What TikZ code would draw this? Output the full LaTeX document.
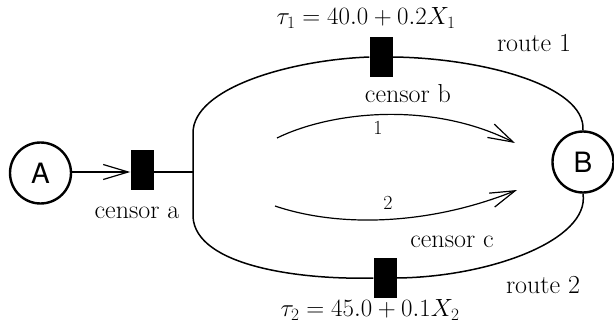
\documentclass[tikz,border=0pt]{standalone}
\usepackage{fontspec}
\setsansfont{TeX Gyre Heros}
\usetikzlibrary{arrows.meta}
\begin{document}
\begin{tikzpicture}[x=1pt,y=-1pt,
  endpoint/.style={draw,circle,line width=2.4pt,minimum size=61pt,inner sep=0pt,font=\sffamily\fontsize{28}{30}\selectfont},
  censorbox/.style={fill=black,draw=none,minimum width=23pt,minimum height=40pt,inner sep=0pt},
  lbl/.style={font=\fontsize{26}{28}\selectfont,inner sep=0pt},
  mlbl/.style={font=\fontsize{23}{25}\selectfont,inner sep=0pt},
  nlbl/.style={font=\fontsize{20}{22}\selectfont,inner sep=0pt},
  routeline/.style={line width=1.5pt},
  flow/.style={line width=1.2pt,-{Straight Barb[length=25pt,width=15pt,line width=1.2pt]}}]
\useasboundingbox (0,0) rectangle (614,329);
% endpoints
\node[endpoint] (A) at (40.5,173) {A};
\node[endpoint] (B) at (583,162) {B};
% censors
\node[censorbox] (ca) at (142,170) {};
\node[censorbox] (cb) at (381,57) {};
\node[censorbox] (cc) at (385,278) {};
% junction / loop corners
\coordinate (jn) at (193,172);
\coordinate (jt) at (193,133);
\coordinate (jb) at (193,217);
% A -> censor a -> junction
\draw[flow] (A.east |- jn) -- (ca.west |- jn);
\draw[routeline] (ca.east |- jn) -- (jn);
% route 1
\draw[routeline] (jn) -- (jt) .. controls (193,88) and (290,60) .. (cb.west);
\draw[routeline] (cb.east) .. controls (480,58) and (586,85) .. (B.north);
% route 2
\draw[routeline] (jn) -- (jb) .. controls (196,266) and (300,280) .. (cc.west);
\draw[routeline] (cc.east) .. controls (490,277) and (590,240) .. (B.south);
% flow arrows
\coordinate (f1s) at (277,138);
\coordinate (f1e) at (515,143);
\coordinate (f2s) at (275,206);
\coordinate (f2e) at (517,190);
\draw[flow] (f1s) .. controls (330,112) and (430,100) .. (f1e);
\draw[flow] (f2s) .. controls (340,228) and (430,225) .. (f2e);
% labels
\node[lbl] (la) at (137,213) {censor a};
\node[lbl] (lb) at (408,94) {censor b};
\node[lbl] (lc) at (452,242) {censor c};
\node[lbl] (r1) at (534,43) {route 1};
\node[lbl] (r2) at (543,285) {route 2};
\node[mlbl] (t1) at (366,18) {$\tau_1 = 40.0 + 0.2X_1$};
\node[mlbl] (t2) at (370,310) {$\tau_2 = 45.0 + 0.1X_2$};
\node[nlbl] (n1) at (378,128) {1};
\node[nlbl] (n2) at (388,203) {2};
\end{tikzpicture}
\end{document}
